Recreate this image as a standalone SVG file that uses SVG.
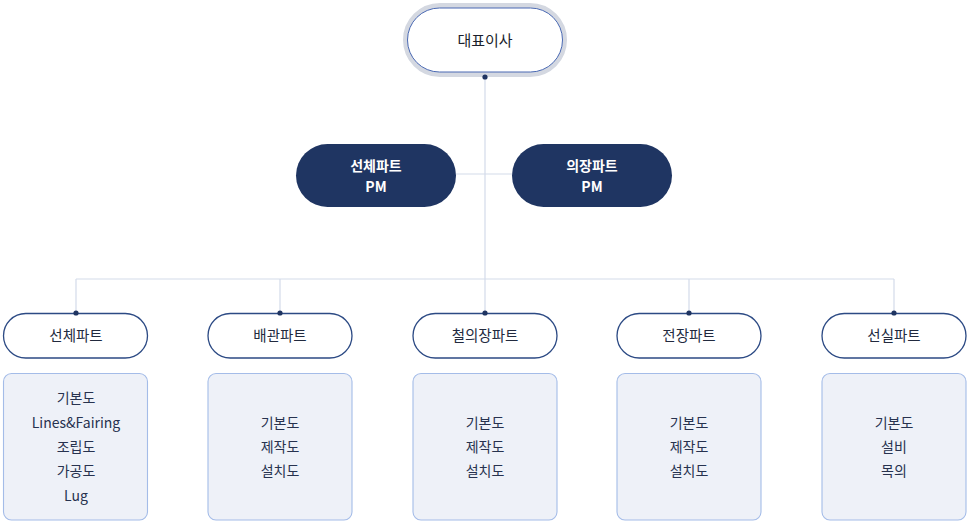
<svg xmlns="http://www.w3.org/2000/svg" width="970" height="525" viewBox="0 0 970 525">
<defs>
<style>
text{font-family:"Noto Sans CJK KR","Noto Sans",sans-serif;text-anchor:middle;}
.ln{stroke:#d3dbe9;stroke-width:1.2;fill:none;}
.dot{fill:#1f3461;}
.pm{fill:#1f3562;}
.pmt{fill:#ffffff;font-size:14px;font-weight:700;}
.part{fill:#ffffff;stroke:#2c4a84;stroke-width:1.3;}
.pt{fill:#222a3e;font-size:14.5px;}
.box{fill:#eef1f8;stroke:#a4bce8;stroke-width:1.1;}
.bt{fill:#27324f;font-size:14px;}
</style>
</defs>
<rect width="970" height="525" fill="#ffffff"/>
<g id="connectors">
<line class="ln" x1="485" y1="77" x2="485" y2="279"/>
<line class="ln" x1="456" y1="174" x2="512" y2="174"/>
<line class="ln" x1="76" y1="279" x2="894" y2="279"/>
<line class="ln" x1="76" y1="279" x2="76" y2="313"/>
<line class="ln" x1="280" y1="279" x2="280" y2="313"/>
<line class="ln" x1="485" y1="279" x2="485" y2="313"/>
<line class="ln" x1="689" y1="279" x2="689" y2="313"/>
<line class="ln" x1="894" y1="279" x2="894" y2="313"/>
</g>
<g id="ceo">
<rect x="405.5" y="5.5" width="159" height="69" rx="34.5" fill="#ffffff" stroke="#d4d8e1" stroke-width="5"/>
<rect x="407.5" y="8" width="155" height="64" rx="32" fill="#ffffff" stroke="#4a69b3" stroke-width="1"/>
<text x="485" y="46" style="font-size:15px;fill:#1b1f2c;">대표이사</text>
<circle class="dot" cx="485" cy="77" r="2.6"/>
</g>
<g id="pm-hull">
<rect class="pm" x="296" y="144" width="160" height="63" rx="31.5"/>
<text class="pmt" x="376" y="171">선체파트</text>
<text class="pmt" x="376" y="192">PM</text>
</g>
<g id="pm-outfit">
<rect class="pm" x="512" y="144" width="160" height="63" rx="31.5"/>
<text class="pmt" x="592" y="171">의장파트</text>
<text class="pmt" x="592" y="192">PM</text>
</g>
<g id="part1">
<rect class="part" x="3.5" y="313.5" width="144" height="44.5" rx="22.25"/>
<text class="pt" x="76" y="341">선체파트</text>
<circle class="dot" cx="76" cy="313" r="2.6"/>
<rect class="box" x="3.5" y="373.5" width="144" height="146.5" rx="8"/>
<text class="bt" x="76" y="403">기본도</text>
<text class="bt" x="76" y="428">Lines&amp;Fairing</text>
<text class="bt" x="76" y="452">조립도</text>
<text class="bt" x="76" y="476">가공도</text>
<text class="bt" x="76" y="501">Lug</text>
</g>
<g id="part2">
<rect class="part" x="208" y="313.5" width="144" height="44.5" rx="22.25"/>
<text class="pt" x="280" y="341">배관파트</text>
<circle class="dot" cx="280" cy="313" r="2.6"/>
<rect class="box" x="208" y="373.5" width="144" height="146.5" rx="8"/>
<text class="bt" x="280" y="428">기본도</text>
<text class="bt" x="280" y="452">제작도</text>
<text class="bt" x="280" y="476">설치도</text>
</g>
<g id="part3">
<rect class="part" x="413" y="313.5" width="144" height="44.5" rx="22.25"/>
<text class="pt" x="485" y="341">철의장파트</text>
<circle class="dot" cx="485" cy="313" r="2.6"/>
<rect class="box" x="413" y="373.5" width="144" height="146.5" rx="8"/>
<text class="bt" x="485" y="428">기본도</text>
<text class="bt" x="485" y="452">제작도</text>
<text class="bt" x="485" y="476">설치도</text>
</g>
<g id="part4">
<rect class="part" x="617" y="313.5" width="144" height="44.5" rx="22.25"/>
<text class="pt" x="689" y="341">전장파트</text>
<circle class="dot" cx="689" cy="313" r="2.6"/>
<rect class="box" x="617" y="373.5" width="144" height="146.5" rx="8"/>
<text class="bt" x="689" y="428">기본도</text>
<text class="bt" x="689" y="452">제작도</text>
<text class="bt" x="689" y="476">설치도</text>
</g>
<g id="part5">
<rect class="part" x="822" y="313.5" width="144" height="44.5" rx="22.25"/>
<text class="pt" x="894" y="341">선실파트</text>
<circle class="dot" cx="894" cy="313" r="2.6"/>
<rect class="box" x="822" y="373.5" width="144" height="146.5" rx="8"/>
<text class="bt" x="894" y="428">기본도</text>
<text class="bt" x="894" y="452">설비</text>
<text class="bt" x="894" y="476">목의</text>
</g>
</svg>
